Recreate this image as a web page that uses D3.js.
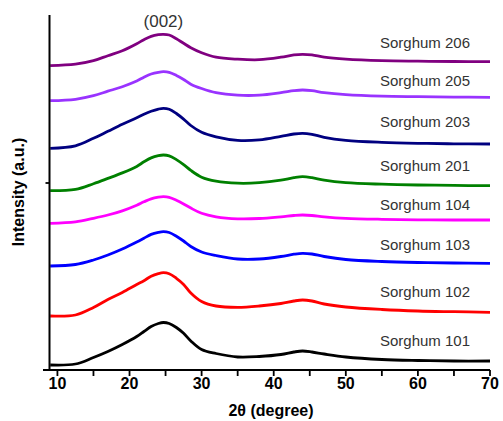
<!DOCTYPE html>
<html><head><meta charset="utf-8">
<script src="https://cdn.jsdelivr.net/npm/d3@7"></script>
<style>body{margin:0;background:#fff}svg{display:block}</style>
</head><body>
<svg id="c" width="503" height="421"></svg>
<script>
const twoTheta = [9, 12.5, 15, 17, 19, 21, 22, 23, 24, 24.7, 25.5, 26.5, 27.5, 28.5, 30, 32, 35, 38, 41, 42.8, 44, 45.3, 47, 50, 55, 60, 65, 70];
const seriesNames = ["Sorghum 101","Sorghum 102","Sorghum 103","Sorghum 104","Sorghum 201","Sorghum 203","Sorghum 205","Sorghum 206"];
const s101 = [5,6,12.5,18.5,25.5,33.5,38.5,43.5,46.5,47.5,46.5,42.5,36.7,29,20.5,16.5,13,13.5,15.5,18,19,18,16,13,10.5,9.5,9,9];
const s102 = [54,55,62.5,70.5,77.5,85.5,89.3,93.8,96.4,97.3,96.3,91.7,85.6,77,68.5,64,62.7,64,66.5,69,70,69,66,63,60.5,59,58.3,57.7];
const s103 = [104,105.5,110,115,121,128,131.8,135.6,137.6,138.3,137.5,133.8,129,123.5,118,114.5,111,111,113.5,115.8,116.7,116,113.5,110.5,108.5,107.5,107,106.7];
const s104 = [146.7,148.2,151.7,155,159.2,164.8,168.2,171.2,172.8,173.3,172.7,169.8,166.1,161.9,156.7,153.2,151.2,151.5,153.2,154.5,155,154.5,153.2,151.7,150.7,150.2,150,150];
const s201 = [179.3,180.6,186.3,191.6,197.1,203.6,208.2,212.1,214.3,215,214.2,210.4,205.4,199.6,192.8,188.8,186.8,187.3,189.8,192.3,193.3,192.3,189.8,187.3,185.8,185,184.6,184.3];
const s203 = [221.7,224.2,231.7,238.7,245.7,252.2,255.7,258.7,260.9,261.7,260.8,256.5,250.9,244.5,237.7,233.2,229.7,230.2,233.7,236,236.7,235.7,232.7,229.7,227.7,226.7,226.2,226];
const s205 = [269.3,270.7,274.3,278.8,283.3,289,292.8,296,297.7,298.3,297.7,294.5,290.5,285.8,281.5,277.3,274.8,274.8,277.3,279.3,280,279.3,277.3,275.3,273.8,273.3,272.9,272.7];
const s206 = [304.3,305.8,309.3,314.3,319.3,326.3,330.3,333.6,335.3,335.7,335,331.3,326.7,322.3,317.3,312.8,310.8,310.3,312.8,315.1,315.7,315.1,312.8,310.8,309.3,308.8,308.5,308.3];
const seriesValues = [s101,s102,s103,s104,s201,s203,s205,s206];
const seriesColors = ["#000000","#ff0000","#0000ff","#ff00ff","#008000","#000080","#9933ff","#800080"];
const labelValues = [24,73,120,160,199,243,284,322];
const xMajorTicks = [10,20,30,40,50,60,70];
const xMinorTicks = [15,25,35,45,55,65];
const yTicks = [187];
const peakLabel = "(002)";

const svg = d3.select("#c");
const x = d3.scaleLinear().domain([8,70]).range([43,490]);
const y = d3.scaleLinear().domain([0,355]).range([370,15]);

const line = d3.line().x((d,i)=>x(twoTheta[i])).y(d=>y(d)).curve(d3.curveCatmullRom.alpha(0.5));

seriesValues.forEach((vals,k)=>{
  svg.append("path").attr("d", line(vals)).attr("fill","none")
    .attr("stroke", seriesColors[k]).attr("stroke-width",2.8).attr("stroke-linejoin","round");
  svg.append("text").attr("x",380).attr("y",y(labelValues[k]))
    .attr("font-family","Arial, 'Liberation Sans', sans-serif").attr("font-size",15)
    .attr("fill","#333").text(seriesNames[k]);
});

// x axis
const gx = svg.append("g").attr("transform","translate(0,370)");
gx.append("line").attr("x1",43).attr("x2",490).attr("stroke","#000").attr("stroke-width",2);
gx.selectAll("line.maj").data(xMajorTicks).join("line").attr("class","maj")
  .attr("x1",d=>x(d)).attr("x2",d=>x(d)).attr("y1",0).attr("y2",6).attr("stroke","#000").attr("stroke-width",1.8);
gx.selectAll("line.min").data(xMinorTicks).join("line").attr("class","min")
  .attr("x1",d=>x(d)).attr("x2",d=>x(d)).attr("y1",0).attr("y2",6).attr("stroke","#000").attr("stroke-width",1.8);
gx.selectAll("text").data(xMajorTicks).join("text")
  .attr("x",d=>x(d)).attr("y",19).attr("text-anchor","middle")
  .attr("font-family","Arial, 'Liberation Sans', sans-serif").attr("font-size",16).attr("font-weight","bold")
  .text(d=>d);

// y axis
const gy = svg.append("g").attr("transform","translate(49.5,0)");
gy.append("line").attr("y1",15).attr("y2",371).attr("stroke","#000").attr("stroke-width",2);
gy.selectAll("line.t").data(yTicks).join("line").attr("class","t")
  .attr("x1",-4).attr("x2",0).attr("y1",d=>y(d)).attr("y2",d=>y(d)).attr("stroke","#000").attr("stroke-width",1.8);

svg.append("text").attr("x",271).attr("y",416).attr("text-anchor","middle")
  .attr("font-family","Arial, 'Liberation Sans', sans-serif").attr("font-size",16).attr("font-weight","bold")
  .text("2θ (degree)");
svg.append("text").attr("transform","translate(24,192) rotate(-90)").attr("text-anchor","middle")
  .attr("font-family","Arial, 'Liberation Sans', sans-serif").attr("font-size",16).attr("font-weight","bold")
  .text("Intensity (a.u.)");
svg.append("text").attr("x",x(24.7)).attr("y",27).attr("text-anchor","middle")
  .attr("font-family","Arial, 'Liberation Sans', sans-serif").attr("font-size",17)
  .attr("fill","#333").text(peakLabel);
</script>
</body></html>
